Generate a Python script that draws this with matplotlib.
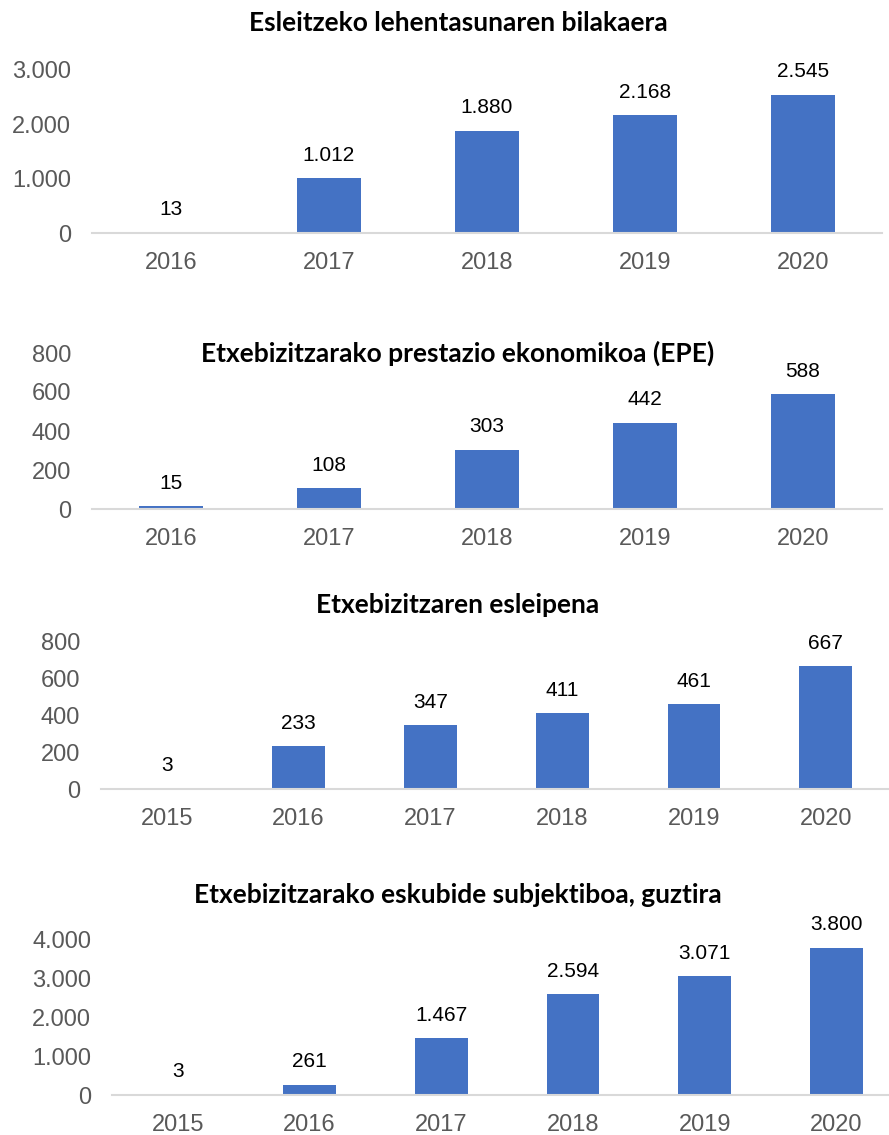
import matplotlib.pyplot as plt

# Data for each panel
years_a = ["2016", "2017", "2018", "2019", "2020"]
years_b = ["2015", "2016", "2017", "2018", "2019", "2020"]

lehentasuna = [13, 1012, 1880, 2168, 2545]
epe = [15, 108, 303, 442, 588]
esleipena = [3, 233, 347, 411, 461, 667]
guztira = [3, 261, 1467, 2594, 3071, 3800]

titles = [
    "Esleitzeko lehentasunaren bilakaera",
    "Etxebizitzarako prestazio ekonomikoa (EPE)",
    "Etxebizitzaren esleipena",
    "Etxebizitzarako eskubide subjektiboa, guztira",
]

BAR = "#4472C4"
GRAY = "#595959"
W, H = 889, 1135


def fmt(v):
    return f"{v:,}".replace(",", ".")


def px_axes(fig, x0, y_top, x1, y_bot):
    return fig.add_axes([x0 / W, 1 - y_bot / H, (x1 - x0) / W, (y_bot - y_top) / H])


def draw_panel(ax, cats, vals, ymax, step, xmax):
    x = list(range(len(cats)))
    ax.bar(x, vals, width=0.4, color=BAR, zorder=2)
    for xi, v in zip(x, vals):
        ax.annotate(fmt(v), (xi, v), xytext=(0, 16.5), textcoords="offset points",
                    ha="center", va="center", fontsize=15, color="black",
                    family="Liberation Sans", annotation_clip=False)
    ax.set_xlim(-0.5, xmax)
    ax.set_ylim(0, ymax)
    ax.set_yticks(range(0, ymax + 1, step))
    ax.set_yticklabels([fmt(t) for t in range(0, ymax + 1, step)])
    ax.set_xticks(x)
    ax.set_xticklabels(cats)
    for s in ["left", "right", "top"]:
        ax.spines[s].set_visible(False)
    ax.spines["bottom"].set_color("#d9d9d9")
    ax.spines["bottom"].set_linewidth(1.5)
    ax.tick_params(axis="both", length=0, labelsize=17, labelcolor=GRAY)
    ax.tick_params(axis="y", pad=15)
    ax.tick_params(axis="x", pad=13.5)
    for lbl in ax.get_xticklabels() + ax.get_yticklabels():
        lbl.set_family("Liberation Sans")
    ax.patch.set_alpha(0)


fig = plt.figure(figsize=(W / 100, H / 100), dpi=100)

ax1 = px_axes(fig, 92, 70, 882, 233)
draw_panel(ax1, years_a, lehentasuna, 3000, 1000, 4.5)

ax2 = px_axes(fig, 92, 353, 882, 509)
draw_panel(ax2, years_a, epe, 800, 200, 4.5)

ax3 = px_axes(fig, 101, 642, 889, 789)
draw_panel(ax3, years_b, esleipena, 800, 200, 5.48)

ax4 = px_axes(fig, 112, 940, 889, 1095)
draw_panel(ax4, years_b, guztira, 4000, 1000, 5.4)

# Titles
for t, y in zip(titles, [23, 353, 605, 895]):
    fig.text(458 / W, 1 - y / H, t, ha="center", va="center", fontsize=19,
             fontweight="bold", family="Lato", color="black")

fig.savefig("out.png", dpi=100)
